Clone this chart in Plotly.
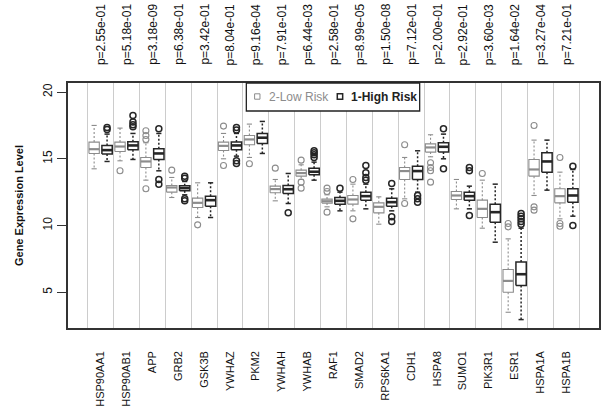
import plotly.graph_objects as go

# Genes and per-gene Wilcoxon p-values (High vs Low risk)
genes = ["HSP90AA1", "HSP90AB1", "APP", "GRB2", "GSK3B", "YWHAZ", "PKM2",
         "YWHAH", "YWHAB", "RAF1", "SMAD2", "RPS6KA1", "CDH1", "HSPA8",
         "SUMO1", "PIK3R1", "ESR1", "HSPA1A", "HSPA1B"]
p_values = ["2.55e-01", "5.18e-01", "3.18e-09", "6.38e-01", "3.42e-01",
            "8.04e-01", "9.16e-04", "7.91e-01", "6.44e-03", "2.58e-01",
            "8.99e-05", "1.50e-08", "7.12e-01", "2.00e-01", "2.92e-01",
            "3.60e-03", "1.64e-02", "3.27e-04", "7.21e-01"]
group_names = ["2-Low Risk", "1-High Risk"]

# Box statistics, group "2-Low Risk"
low_lower = [14.25, 14.85, 13.4, 12.1, 10.6, 15.0, 15.1, 11.85, 13.45, 11.4,
             11.1, 10.1, 12.0, 15.15, 11.25, 9.8, 3.5, 12.25, 10.5]
low_q1 = [15.4, 15.55, 14.35, 12.5, 11.35, 15.62, 16.05, 12.45, 13.7, 11.68,
          11.6, 10.95, 13.45, 15.5, 11.95, 10.6, 5.0, 13.7, 11.7]
low_median = [15.72, 15.92, 14.8, 12.85, 11.7, 15.97, 16.45, 12.73, 13.93, 11.82,
              11.95, 11.4, 14.08, 15.85, 12.25, 11.25, 5.85, 14.2, 12.2]
low_q3 = [16.25, 16.25, 15.1, 13.0, 12.05, 16.25, 16.75, 12.95, 14.15, 11.98,
          12.25, 11.7, 14.35, 16.12, 12.55, 11.9, 6.7, 14.95, 12.75]
low_upper = [17.5, 17.3, 16.2, 13.6, 13.2, 16.9, 17.6, 13.45, 14.55, 12.3,
             13.1, 12.15, 15.1, 16.8, 13.45, 13.4, 9.0, 16.4, 14.0]
low_outliers = [[], [14.1], [17.1, 16.75, 16.45, 12.75], [14.15], [10.05],
                [17.45, 14.5], [14.63], [14.3], [14.9, 13.25, 12.8],
                [12.8, 12.55, 11.0], [13.45, 10.5], [], [16.05, 11.65],
                [14.7, 14.35, 14.1, 13.25], [], [13.9], [10.15, 9.9],
                [17.5, 11.4, 11.15], [15.1, 10.15, 9.95]]

# Box statistics, group "1-High Risk"
high_lower = [14.8, 14.95, 14.1, 12.3, 10.6, 15.2, 15.4, 11.65, 13.4, 11.1,
              11.25, 11.1, 12.5, 15.0, 11.25, 8.75, 2.95, 12.65, 10.7]
high_q1 = [15.35, 15.68, 14.95, 12.6, 11.45, 15.68, 16.15, 12.4, 13.8, 11.6,
           11.9, 11.45, 13.45, 15.5, 11.9, 10.25, 5.5, 14.0, 11.75]
high_median = [15.65, 16.0, 15.4, 12.8, 11.9, 16.0, 16.58, 12.72, 14.03, 11.85,
               12.2, 11.75, 14.08, 15.9, 12.2, 11.0, 6.35, 14.8, 12.25]
high_q3 = [16.0, 16.28, 15.75, 12.98, 12.2, 16.25, 16.9, 13.0, 14.3, 12.1,
           12.5, 12.05, 14.45, 16.2, 12.5, 11.6, 7.27, 15.45, 12.75]
high_upper = [16.85, 16.9, 16.9, 13.3, 13.2, 16.9, 17.8, 13.9, 14.75, 12.5,
              13.1, 12.75, 15.6, 16.85, 12.95, 13.1, 9.8, 16.4, 14.2]
high_outliers = [[17.2, 17.35], [18.25, 17.75, 17.55, 17.4], [17.25, 13.45, 13.1],
                 [13.7, 13.55, 12.0, 11.85], [], [17.35, 17.15, 14.85, 14.65], [],
                 [10.95], [15.6, 15.45, 15.3, 15.1], [12.8], [14.5, 13.95, 13.6, 13.4],
                 [13.15, 10.65, 10.3], [12.25, 12.0, 11.75], [17.25, 14.25],
                 [14.35, 14.1, 10.75], [], [10.9, 10.7, 10.5, 10.3, 10.1], [],
                 [14.45, 10.0]]

FONT = "Liberation Sans, Arial, Helvetica, sans-serif"
LOW_COLOR = "#8c8c8c"
HIGH_COLOR = "#262626"
BOX_HALF = 0.4      # half box width (x units)
STAPLE_HALF = 0.2   # half whisker-cap width

W, H = 601, 410
ML, MR, MT, MB = 68, 0, 83, 82
PW, PH = W - ML - MR, H - MT - MB

n = len(genes)
low_pos = [2 * i + 1 for i in range(n)]
high_pos = [2 * i + 2 for i in range(n)]
centers = [2 * i + 1.5 for i in range(n)]


def px_x(px):
    """pixel column -> paper x"""
    return (px - ML) / PW


def px_y(py):
    """pixel row -> paper y"""
    return 1 - (py - MT) / PH


def segments(pairs):
    xs, ys = [], []
    for (x0, y0, x1, y1) in pairs:
        xs += [x0, x1, None]
        ys += [y0, y1, None]
    return xs, ys


def add_group(fig, pos, lo, q1, med, q3, hi, outl, color, lw, mw):
    # box outlines
    bx, by = [], []
    for x, a, b in zip(pos, q1, q3):
        bx += [x - BOX_HALF, x + BOX_HALF, x + BOX_HALF, x - BOX_HALF, x - BOX_HALF, None]
        by += [a, a, b, b, a, None]
    fig.add_trace(go.Scatter(x=bx, y=by, mode="lines",
                             line=dict(color=color, width=lw), hoverinfo="skip"))
    # dashed whiskers
    wx, wy = segments([(x, b, x, h) for x, b, h in zip(pos, q3, hi)] +
                      [(x, a, x, l) for x, a, l in zip(pos, q1, lo)])
    fig.add_trace(go.Scatter(x=wx, y=wy, mode="lines",
                             line=dict(color=color, width=lw, dash="2px,2px"),
                             hoverinfo="skip"))
    # whisker caps
    sx, sy = segments([(x - STAPLE_HALF, h, x + STAPLE_HALF, h) for x, h in zip(pos, hi)] +
                      [(x - STAPLE_HALF, l, x + STAPLE_HALF, l) for x, l in zip(pos, lo)])
    fig.add_trace(go.Scatter(x=sx, y=sy, mode="lines",
                             line=dict(color=color, width=lw), hoverinfo="skip"))
    # medians
    mx, my = segments([(x - BOX_HALF, m, x + BOX_HALF, m) for x, m in zip(pos, med)])
    fig.add_trace(go.Scatter(x=mx, y=my, mode="lines",
                             line=dict(color=color, width=mw), hoverinfo="skip"))
    # outliers
    ox, oy = [], []
    for x, vals in zip(pos, outl):
        ox += [x] * len(vals)
        oy += vals
    fig.add_trace(go.Scatter(x=ox, y=oy, mode="markers",
                             marker=dict(symbol="circle-open", size=6, color=color,
                                         line=dict(width=lw)),
                             hoverinfo="skip"))


fig = go.Figure()
add_group(fig, low_pos, low_lower, low_q1, low_median, low_q3, low_upper, low_outliers,
          LOW_COLOR, 1.1, 2.2)
add_group(fig, high_pos, high_lower, high_q1, high_median, high_q3, high_upper, high_outliers,
          HIGH_COLOR, 1.5, 2.6)

# p-values above each gene
for c, p in zip(centers, p_values):
    fig.add_annotation(x=c, xref="x", y=1, yref="paper", yanchor="bottom", yshift=16,
                       xanchor="center", text="p=" + p, textangle=-90, showarrow=False,
                       font=dict(family=FONT, size=12, color="#111111"))

# legend box at the top of the panel
fig.add_shape(type="rect", xref="paper", yref="paper", layer="above",
              x0=px_x(247), x1=px_x(421), y0=px_y(111), y1=1,
              fillcolor="white", line=dict(color="#222222", width=1.3))
legend_keys = [(258, 268, LOW_COLOR, 1.0, "<span style='color:%s'>%s</span>" % (LOW_COLOR, group_names[0])),
               (341, 350, HIGH_COLOR, 1.5, "<b>%s</b>" % group_names[1])]
for sq_x, tx_x, col, lw, label in legend_keys:
    fig.add_shape(type="rect", xref="paper", yref="paper", layer="above",
                  x0=px_x(sq_x - 2.7), x1=px_x(sq_x + 2.7),
                  y0=px_y(96.5 + 2.7), y1=px_y(96.5 - 2.7),
                  fillcolor="white", line=dict(color=col, width=lw))
    fig.add_annotation(x=px_x(tx_x), xref="paper", y=px_y(96.5), yref="paper",
                       xanchor="left", yanchor="middle", text=label, showarrow=False,
                       font=dict(family=FONT, size=12, color="#222222"))

fig.update_layout(
    width=W, height=H,
    margin=dict(l=ML, r=MR, t=MT, b=MB),
    paper_bgcolor="white", plot_bgcolor="white",
    font=dict(family=FONT, color="#111111"),
    showlegend=False,
    xaxis=dict(range=[-1.02, 40.02], tickmode="array", tickvals=centers, ticktext=genes,
               tickangle=-90, ticks="", showgrid=False, zeroline=False,
               showline=True, mirror=True, linecolor="#333333", linewidth=1.5,
               ticklabelstandoff=17,
               tickfont=dict(family=FONT, size=11, color="#111111"),
               minor=dict(tick0=0.5, dtick=2, showgrid=True, gridcolor="#cccccc",
                          gridwidth=1, ticks="")),
    yaxis=dict(range=[2.32, 20.68], tickmode="array", tickvals=[5, 10, 15, 20],
               tickangle=-90, ticks="outside", ticklen=9, tickwidth=1.2,
               tickcolor="#333333", showgrid=False, zeroline=False,
               showline=True, mirror=True, linecolor="#333333", linewidth=1.5,
               tickfont=dict(family=FONT, size=12, color="#111111"),
               title=dict(text="<b>Gene Expression Level</b>", standoff=16,
                          font=dict(family=FONT, size=11, color="#111111"))),
)

fig.write_html("out.html")
